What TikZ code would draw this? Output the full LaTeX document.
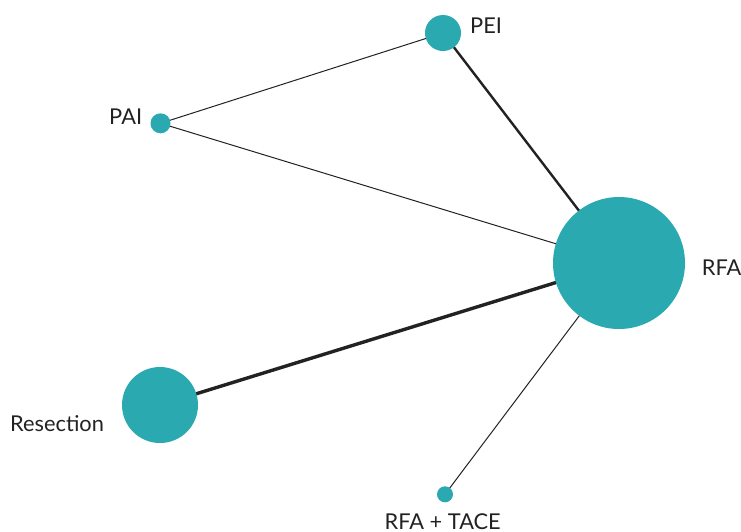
\documentclass[tikz,border=0pt]{standalone}
\usepackage{fontspec}
\setmainfont{Lato}
\definecolor{teal1}{HTML}{2AA9B0}
\definecolor{ink}{HTML}{222222}
\begin{document}
\begin{tikzpicture}[x=1pt,y=-1pt,
  nd/.style={circle,fill=teal1,inner sep=0pt,draw=none},
  lbl/.style={font=\fontsize{21.8}{26}\selectfont,text=ink,inner sep=0pt},
  edge/.style={draw=ink,line width=1pt}]
\useasboundingbox (0,0) rectangle (741,531);
\coordinate (cPEI) at (443,33);
\coordinate (cPAI) at (160.5,123.3);
\coordinate (cRFA) at (619,263);
\coordinate (cRES) at (160,405);
\coordinate (cTACE) at (445,494.3);
% edges
\draw[edge] (cPAI) -- (cPEI);
\draw[edge] (cPAI) -- (cRFA);
\draw[edge,line width=2.4pt] (cPEI) -- (cRFA);
\draw[edge,line width=3.4pt] (cRES) -- (cRFA);
\draw[edge] (cTACE) -- (cRFA);
% nodes
\node[nd,minimum size=36pt] (PEI) at (cPEI) {};
\node[nd,minimum size=20pt] (PAI) at (cPAI) {};
\node[nd,minimum size=132pt] (RFA) at (cRFA) {};
\node[nd,minimum size=76pt] (RES) at (cRES) {};
\node[nd,minimum size=16pt] (TACE) at (cTACE) {};
% labels
\node[lbl,anchor=base west] (lPEI) at (470,33.3) {PEI};
\node[lbl,anchor=base east] (lPAI) at (142.3,124.3) {PAI};
\node[lbl,anchor=base west] (lRFA) at (701.7,275) {RFA};
\node[lbl,anchor=base west] (lRES) at (10,431) {Resection};
\node[lbl,anchor=base,text depth=0pt] (lTACE) at (442.7,529.5) {RFA + TACE};
\end{tikzpicture}
\end{document}
